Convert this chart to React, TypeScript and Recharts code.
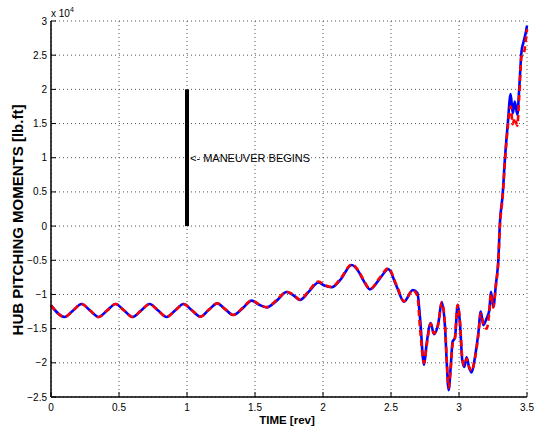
import React from "react"
import { LineChart, Line, XAxis, YAxis, CartesianGrid, ReferenceLine } from "recharts"

// time in rotor revolutions, moments in lb.ft
const time = [
  0, 0.1, 0.1625, 0.225, 0.2875, 0.35, 0.4125, 0.475, 0.5375, 0.6, 0.6625, 0.725, 0.7875, 0.85, 0.9125, 0.975,
  1.0375, 1.1, 1.16, 1.223, 1.28, 1.34, 1.41, 1.476, 1.53, 1.586, 1.66, 1.733, 1.78, 1.831, 1.9, 1.966,
  2.01, 2.064, 2.13, 2.211, 2.26, 2.296, 2.346, 2.419, 2.48, 2.542, 2.596, 2.66, 2.694, 2.713, 2.743, 2.762,
  2.792, 2.816, 2.848, 2.873, 2.897, 2.909, 2.924, 2.939, 2.953, 2.97, 2.99, 3.007, 3.024, 3.039, 3.056, 3.076,
  3.093, 3.118, 3.142, 3.16, 3.179, 3.203, 3.223, 3.235, 3.252, 3.272, 3.289, 3.301, 3.321, 3.338, 3.358, 3.38,
  3.395, 3.41, 3.429, 3.443, 3.46, 3.473, 3.493, 3.5,
]

const momentBlue = [
  -11600, -13300, -12350, -11400, -12350, -13300, -12350, -11400, -12350, -13300, -12350, -11400, -12350, -13300, -12350, -11400,
  -12350, -13250, -12250, -11300, -12150, -13000, -12000, -10900, -11500, -11900, -10900, -9650, -10100, -10800, -9500, -8250,
  -8700, -8950, -7800, -5700, -6600, -7900, -9250, -7650, -6300, -8850, -11050, -9350, -9750, -13300, -20300, -17200,
  -14200, -15800, -14200, -11100, -14700, -19600, -24000, -20600, -16900, -16400, -11600, -14200, -19600, -20600, -19200, -20800,
  -21400, -19100, -15700, -12500, -14500, -13500, -12300, -9600, -11800, -8400, -5000, 500, 4600, 9900, 14800, 19300,
  16500, 18200, 16300, 20200, 25600, 26800, 28500, 29300,
]

const momentRed = [
  -11600, -13300, -12350, -11400, -12350, -13300, -12350, -11400, -12350, -13300, -12350, -11400, -12350, -13300, -12350, -11400,
  -12350, -13250, -12250, -11300, -12150, -13000, -11950, -10850, -11450, -11850, -10800, -9600, -10000, -10750, -9350, -8100,
  -8600, -8900, -7650, -5600, -6500, -7800, -9200, -7500, -6150, -8700, -11000, -9400, -10200, -14800, -20000, -17500,
  -14300, -15700, -14300, -11200, -14300, -19200, -23600, -20900, -17300, -16300, -11500, -13900, -19300, -20400, -19400, -20700,
  -21200, -19300, -16000, -12800, -14300, -15000, -12600, -9900, -11900, -8600, -5300, 0, 4300, 9500, 14300, 17500,
  14900, 15800, 14700, 19000, 24800, 25000, 27500, 28800,
]

const xTicks = [0, 0.5, 1, 1.5, 2, 2.5, 3, 3.5]
const yTicks = [-25000, -20000, -15000, -10000, -5000, 0, 5000, 10000, 15000, 20000, 25000, 30000]

const data = time.map((t, i) => ({ t, blue: momentBlue[i], red: momentRed[i] }))

const FONT = "'Liberation Sans', Arial, Helvetica, sans-serif"

const fmtY = (v: number) => {
  const s = v / 10000
  return s < 0 ? "\u2212" + Math.abs(s) : String(s)
}

const BottomTick = (p: any) => (
  <g>
    <line x1={p.x} y1={p.y - 7} x2={p.x} y2={p.y - 12} stroke="#000" />
    <text x={p.x} y={p.y} dy="0.71em" textAnchor="middle" fontSize={10} fontFamily={FONT} fill="#000">
      {String(p.payload.value)}
    </text>
  </g>
)

const LeftTick = (p: any) => (
  <g>
    <line x1={p.x + 4} y1={p.y} x2={p.x + 9} y2={p.y} stroke="#000" />
    <text x={p.x} y={p.y} dy="0.35em" textAnchor="end" fontSize={10} fontFamily={FONT} fill="#000">
      {fmtY(p.payload.value)}
    </text>
  </g>
)

const TopTick = (p: any) => <line x1={p.x} y1={p.y} x2={p.x} y2={p.y + 5} stroke="#000" />
const RightTick = (p: any) => <line x1={p.x} y1={p.y} x2={p.x - 5} y2={p.y} stroke="#000" />

export default function App() {
  return (
    <div style={{ position: "absolute", left: 0, top: 0, width: 537, height: 427, background: "#fff" }}>
      <LineChart width={537} height={427} data={data} margin={{ top: 21, right: 10, bottom: 0, left: 0 }}>
        <CartesianGrid stroke="#555" strokeDasharray="1 3" />
        <XAxis dataKey="t" type="number" domain={[0, 3.5]} ticks={xTicks} interval={0} height={30}
          tickSize={0} tickMargin={7} tick={<BottomTick />} tickLine={false} axisLine={{ stroke: "#000", strokeWidth: 1.5 }} />
        <XAxis xAxisId="top" orientation="top" dataKey="t" type="number" domain={[0, 3.5]} ticks={xTicks} interval={0}
          height={0} tickSize={0} tickMargin={0} tick={<TopTick />} tickLine={false} axisLine={{ stroke: "#000", strokeWidth: 1.5 }} />
        <YAxis type="number" domain={[-25000, 30000]} ticks={yTicks} interval={0} width={51}
          tickSize={0} tickMargin={4} tick={<LeftTick />} tickLine={false} axisLine={{ stroke: "#000", strokeWidth: 1.5 }} />
        <YAxis yAxisId="right" orientation="right" type="number" domain={[-25000, 30000]} ticks={yTicks} interval={0} width={0}
          tickSize={0} tickMargin={0} tick={<RightTick />} tickLine={false} axisLine={{ stroke: "#000", strokeWidth: 1.5 }} />
        <ReferenceLine segment={[{ x: 1, y: 0 }, { x: 1, y: 20000 }]} stroke="#000" strokeWidth={4}
          label={{ value: "<- MANEUVER BEGINS", position: "right", offset: 3, fontSize: 11, fill: "#000", fontFamily: FONT }} />
        <Line type="monotone" dataKey="blue" stroke="#0000ff" strokeWidth={2.6} dot={false} isAnimationActive={false} />
        <Line type="monotone" dataKey="red" stroke="#ff0000" strokeWidth={2.6} strokeDasharray="6 4" dot={false} isAnimationActive={false} />
      </LineChart>
      <svg width={537} height={427} style={{ position: "absolute", left: 0, top: 0, pointerEvents: "none" }} fontFamily={FONT}>
        <text x={51} y={16.5} fontSize={10} fill="#000">
          x 10<tspan fontSize={7} dy={-5}>4</tspan>
        </text>
        <text x={287} y={424} textAnchor="middle" fontSize={11.5} fontWeight="bold" fill="#000">TIME [rev]</text>
        <text x={22.5} y={220} textAnchor="middle" fontSize={15} fontWeight="bold" fill="#000" transform="rotate(-90 22.5 220)">
          HUB PITCHING MOMENTS [lb.ft]
        </text>
      </svg>
    </div>
  )
}
